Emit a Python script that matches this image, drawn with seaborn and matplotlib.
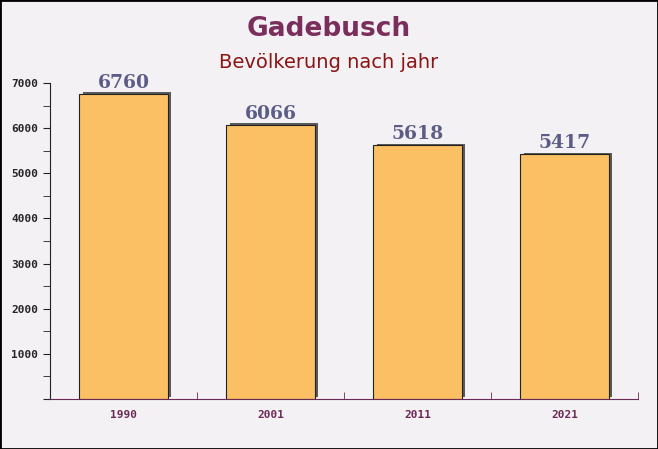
import matplotlib
matplotlib.use("Agg")
import matplotlib.pyplot as plt
import matplotlib.patheffects as pe
import seaborn as sns
import pandas as pd

jahre = ["1990", "2001", "2011", "2021"]
einwohner = [6760, 6066, 5618, 5417]

df = pd.DataFrame({"jahr": jahre, "einwohner": einwohner})

sns.set_style("ticks")
fig = plt.figure(figsize=(6.58, 4.49), dpi=100)
fig.patch.set_facecolor("#f4f1f4")
ax = fig.add_axes([50/658, 50/449, 588/658, 316/449])
ax.set_facecolor("none")

sns.barplot(data=df, x="jahr", y="einwohner", color="#fbc063", width=0.6,
            saturation=1, edgecolor="#222222", linewidth=0.8, ax=ax)

for p in ax.patches:
    p.set_path_effects([pe.SimplePatchShadow(offset=(2.5, 1.2), shadow_rgbFace="#5a5a5a", alpha=1),
                        pe.Normal()])

for i, v in enumerate(einwohner):
    ax.text(i, v + 50, str(v), ha="center", va="bottom", fontsize=13.5,
            fontweight="bold", family="DejaVu Serif", color="#5c5c86")

ax.set_xlim(-0.5, 3.5)
ax.set_ylim(0, 7000)
ax.set_xlabel("")
ax.set_ylabel("")
ax.set_yticks(range(0, 7001, 1000))
ax.set_yticklabels(["" if t == 0 else str(t) for t in range(0, 7001, 1000)])
ax.set_yticks(range(500, 7000, 1000), minor=True)
ax.set_xticks([-0.5, 0.5, 1.5, 2.5, 3.5], minor=True)
ax.tick_params(axis="x", which="major", length=0, pad=8, labelsize=8, labelcolor="#6b2a55")
ax.tick_params(axis="x", which="minor", direction="in", length=5, color="#6b2a55")
ax.tick_params(axis="y", which="both", length=5, color="#222222", labelsize=8)
for lab in ax.get_xticklabels() + ax.get_yticklabels():
    lab.set_family("DejaVu Sans Mono")
    lab.set_fontweight("bold")

ax.spines["top"].set_visible(False)
ax.spines["right"].set_visible(False)
ax.spines["left"].set_color("#222222")
ax.spines["bottom"].set_color("#6b2a55")

fig.text(0.5, 0.935, "Gadebusch", ha="center", va="center", fontsize=19,
         fontweight="bold", color="#7a2e5c")
fig.text(0.5, 0.86, "Bevölkerung nach jahr", ha="center", va="center",
         fontsize=14, color="#8b1414")

border = plt.Rectangle((0, 0), 1, 1, transform=fig.transFigure, fill=False,
                       edgecolor="black", linewidth=2)
fig.patches.append(border)

fig.savefig("out.png", dpi=100, facecolor=fig.get_facecolor())
